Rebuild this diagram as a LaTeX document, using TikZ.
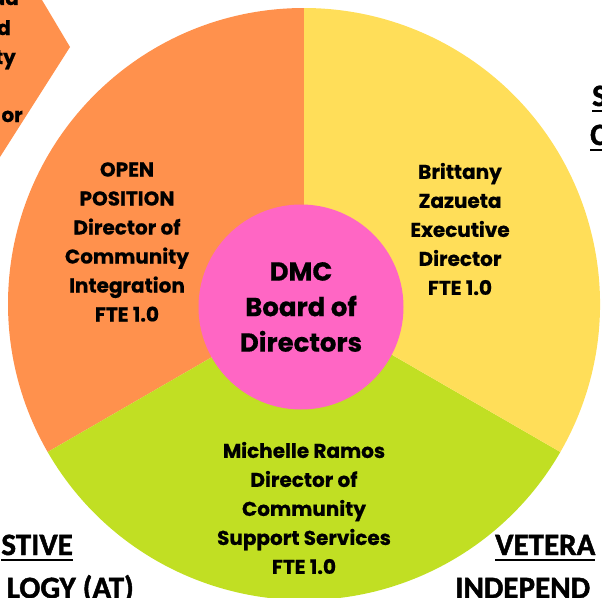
\documentclass[tikz,border=0pt]{standalone}
\usepackage{fontspec}
\setmainfont{Poppins}[BoldFeatures={FakeBold=0.6}]
\newfontfamily\edgefont{Carlito}[BoldFont={Carlito Bold},BoldFeatures={FakeBold=1.5}]
\definecolor{secorange}{HTML}{FF914D}
\definecolor{secyellow}{HTML}{FFDE59}
\definecolor{secgreen}{HTML}{C1DF23}
\definecolor{secpink}{HTML}{FF66C4}
\newcommand\myul[1]{\leavevmode\setbox0\hbox{#1}\rlap{\copy0}\raisebox{-6pt}{\rule{\wd0}{2.5pt}}}
\begin{document}
\begin{tikzpicture}[x=1pt,y=1pt,
  roletext/.style={align=center,font=\fontsize{20}{29}\selectfont\bfseries,text=black,inner sep=0pt},
  edgetext/.style={font=\edgefont\bfseries\fontsize{31}{36}\selectfont,text=black,inner sep=0pt},
  cuttext/.style={font=\fontsize{20}{29}\selectfont\bfseries,text=black,inner sep=0pt,anchor=base east}]
\useasboundingbox (0,0) rectangle (602,-597);
\clip (0,0) rectangle (602,-597);
% chevron fragment
\fill[secorange] (0,0) -- (42,0) -- (70,-47) -- (0,-157) -- cycle;
\node[cuttext] (t1) at (19,-5) {ad};
\node[cuttext] (t2) at (11,-35) {d};
\node[cuttext] (t3) at (16,-64) {ty};
\node[cuttext] (t4) at (23,-122) {or};
% pie
\coordinate (C) at (304,-304);
\fill[secorange] (C) -- ++(90:296) arc[start angle=90,end angle=210,radius=296pt] -- cycle;
\fill[secgreen] (C) -- ++(210:296) arc[start angle=210,end angle=330,radius=296pt] -- cycle;
\fill[secyellow] (C) -- ++(330:296) arc[start angle=-30,end angle=90,radius=296pt] -- cycle;
\node[circle,fill=secpink,minimum size=205pt,inner sep=0pt,align=center,
  font=\fontsize{26}{35.5}\selectfont\bfseries] (board) at (301,-307) {DMC\\Board of\\Directors};
\node[roletext] (open) at (127,-242) {OPEN\\POSITION\\Director of\\Community\\Integration\\FTE 1.0};
\node[roletext] (exec) at (460,-229) {Brittany\\Zazueta\\Executive\\Director\\FTE 1.0};
\node[roletext] (css) at (304,-508) {Michelle Ramos\\Director of\\Community\\Support Services\\FTE 1.0};
% edge fragments
\node[edgetext,anchor=base east] (e1) at (73,-555) {\myul{STIVE}};
\node[edgetext,anchor=base east] (e2) at (134,-598) {LOGY (AT)};
\node[edgetext,anchor=base west] (e3) at (495,-555) {\myul{VETERA}};
\node[edgetext,anchor=base west] (e4) at (455,-598) {INDEPEND};
\node[edgetext,anchor=base west] (e5) at (592,-106) {\myul{S}};
\node[edgetext,anchor=base west] (e6) at (590,-145) {\myul{C}};
\end{tikzpicture}
\end{document}
